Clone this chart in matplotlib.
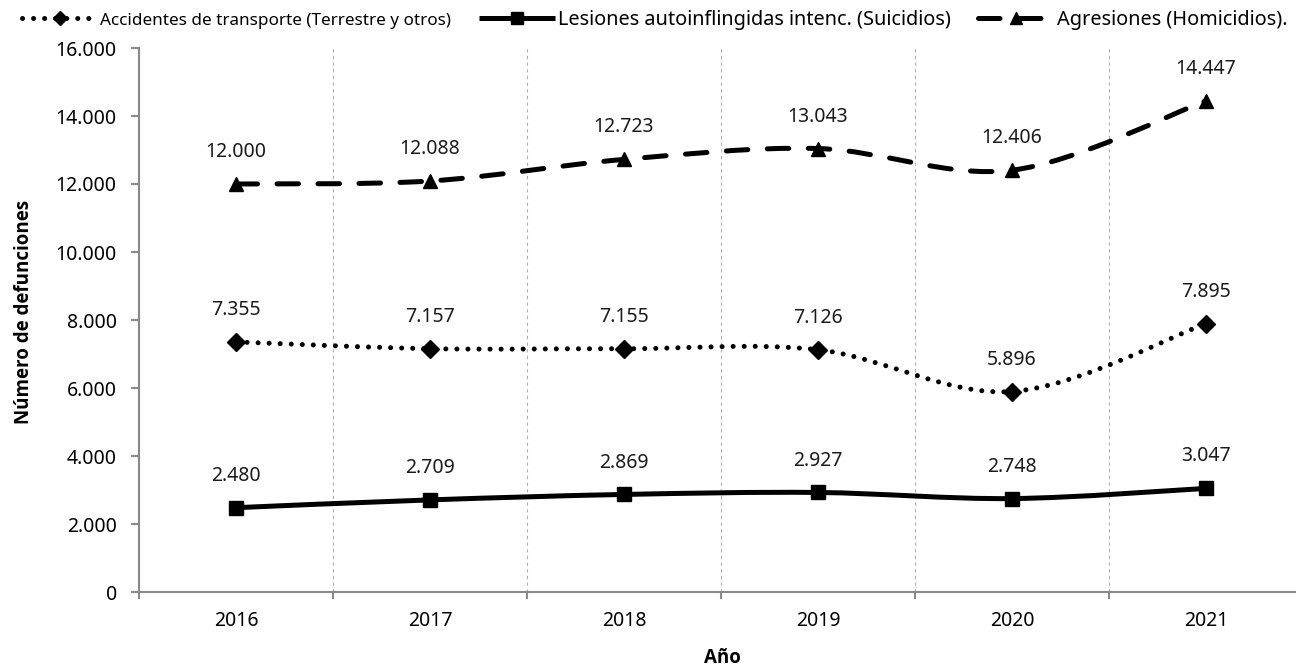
import matplotlib
matplotlib.use('Agg')
import matplotlib.pyplot as plt
from matplotlib.path import Path
from matplotlib.patches import PathPatch
from matplotlib.lines import Line2D
from matplotlib.ticker import FuncFormatter, MultipleLocator, FixedLocator

plt.rcParams['font.family'] = ['Noto Sans', 'DejaVu Sans']

anios = ['2016', '2017', '2018', '2019', '2020', '2021']
transporte = [7355, 7157, 7155, 7126, 5896, 7895]
suicidios = [2480, 2709, 2869, 2927, 2748, 3047]
homicidios = [12000, 12088, 12723, 13043, 12406, 14447]

nombres = ['Accidentes de transporte (Terrestre y otros)',
           'Lesiones autoinflingidas intenc. (Suicidios)',
           'Agresiones (Homicidios).']


def miles(v):
    return f"{v:,.0f}".replace(',', '.')


def curva_suave(xs, ys):
    # curva tipo Excel (bezier con tangentes catmull-rom)
    pts = list(zip(xs, ys))
    verts = [pts[0]]
    codes = [Path.MOVETO]
    n = len(pts)
    for i in range(n - 1):
        p0 = pts[i - 1] if i > 0 else pts[i]
        p1 = pts[i]
        p2 = pts[i + 1]
        p3 = pts[i + 2] if i + 2 < n else pts[i + 1]
        c1 = (p1[0] + (p2[0] - p0[0]) / 6, p1[1] + (p2[1] - p0[1]) / 6)
        c2 = (p2[0] - (p3[0] - p1[0]) / 6, p2[1] - (p3[1] - p1[1]) / 6)
        verts += [c1, c2, p2]
        codes += [Path.CURVE4] * 3
    return Path(verts, codes)


fig = plt.figure(figsize=(12.96, 6.68), dpi=100)
ax = fig.add_axes([139 / 1296, 76 / 668, 1164 / 1296, 544 / 668])

x = list(range(len(anios)))
series = [
    (transporte, 'D', 9.5, (0, (0.01, 2.2)), 3.6),
    (suicidios, 's', 10.5, '-', 3.6),
    (homicidios, '^', 10, (0, (4.3, 3.9)), 3.6),
]

handles = []
for (vals, mk, ms, ls, lw), nombre in zip(series, nombres):
    patch = PathPatch(curva_suave(x, vals), fill=False, edgecolor='black',
                      linewidth=lw, linestyle=ls, capstyle='round', zorder=3)
    ax.add_patch(patch)
    ax.plot(x, vals, linestyle='none', marker=mk, markersize=ms,
            color='black', zorder=4)
    for xi, v in zip(x, vals):
        ax.annotate(miles(v), (xi, v), xytext=(0, 23), textcoords='offset points',
                    ha='center', va='center', fontsize=14, color='#1a1a1a')
    handles.append(Line2D([], [], color='black', linewidth=lw, linestyle=ls,
                          dash_capstyle='round', solid_capstyle='butt',
                          marker=mk, markersize=ms * 0.8))

ax.set_xlim(-0.5, len(anios) - 0.5)
ax.set_ylim(0, 16000)
ax.yaxis.set_major_locator(MultipleLocator(2000))
ax.yaxis.set_major_formatter(FuncFormatter(lambda v, p: miles(v)))
ax.set_xticks(x)
ax.set_xticklabels(anios)
ax.xaxis.set_minor_locator(FixedLocator([i + 0.5 for i in range(-1, len(anios))]))
ax.tick_params(axis='x', which='major', length=0, pad=14, labelsize=14)
ax.tick_params(axis='x', which='minor', length=5, width=1.5, color='#898989', direction='out')
ax.tick_params(axis='y', length=6, width=1.5, color='#898989', direction='out',
               pad=10, labelsize=14)
ax.grid(axis='x', which='minor', linestyle=(0, (3, 3)), color='#b0b0b0', linewidth=0.8)

for s in ['top', 'right']:
    ax.spines[s].set_visible(False)
for s in ['left', 'bottom']:
    ax.spines[s].set_color('#898989')
    ax.spines[s].set_linewidth(1.5)

fig.text(24 / 1296, 1 - 312 / 668, 'Número de defunciones', rotation=90, ha='center',
         va='center', fontsize=13.5, fontweight='bold',
         family=['Open Sans', 'DejaVu Sans'])
fig.text(722 / 1296, 1 - 658 / 668, 'Año', ha='center', va='center',
         fontsize=13.5, fontweight='bold', family=['Open Sans', 'DejaVu Sans'])

leg = fig.legend(handles=handles, labels=nombres, ncol=3, loc='upper left',
                 bbox_to_anchor=(12 / 1296, 1.0), frameon=False, fontsize=14.3,
                 handlelength=3.8, handletextpad=0.15, columnspacing=1.4,
                 borderaxespad=0.1)
leg.get_texts()[0].set_fontsize(12.3)

fig.savefig('out.png', dpi=100)
